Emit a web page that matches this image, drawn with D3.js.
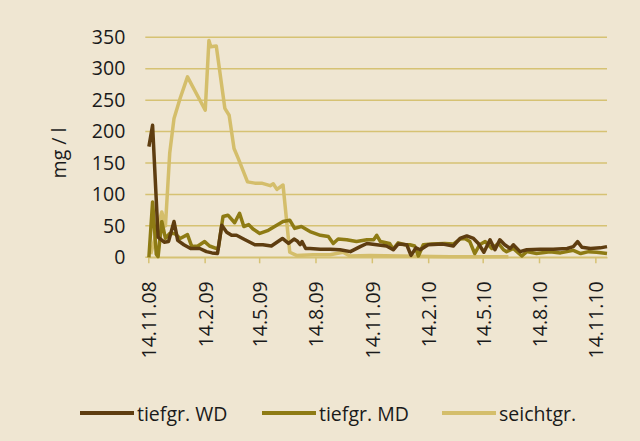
<!DOCTYPE html>
<html>
<head>
<meta charset="utf-8">
<script src="https://cdn.jsdelivr.net/npm/d3@7"></script>
<style>
  html, body { margin: 0; padding: 0; background: #efe6d2; }
  svg { display: block; font-family: "Open Sans", "Noto Sans", sans-serif; }
  .grid line { stroke: #d6c273; stroke-width: 1.5; }
  .series { fill: none; stroke-width: 3.5; stroke-linejoin: round; }
  text { fill: #1a1a1a; }
</style>
</head>
<body>
<div id="wrapper"></div>
<script>
// 1. Data

const wdDates = ["2008-11-15","2008-11-21","2008-11-30","2008-12-10","2008-12-17","2008-12-26","2009-01-01","2009-01-11","2009-01-22","2009-02-06","2009-02-17","2009-02-26","2009-03-07","2009-03-14","2009-03-22","2009-03-30","2009-04-07","2009-04-21","2009-05-07","2009-05-20","2009-06-03","2009-06-21","2009-07-01","2009-07-10","2009-07-15","2009-07-20","2009-07-23","2009-07-29","2009-08-05","2009-08-22","2009-09-07","2009-09-23","2009-10-10","2009-10-26","2009-11-06","2009-11-22","2009-12-08","2009-12-19","2009-12-27","2010-01-10","2010-01-17","2010-01-25","2010-02-01","2010-02-14","2010-03-10","2010-03-27","2010-04-07","2010-04-18","2010-04-29","2010-05-07","2010-05-16","2010-05-26","2010-06-03","2010-06-11","2010-06-19","2010-06-28","2010-07-03","2010-07-14","2010-07-25","2010-08-16","2010-09-06","2010-09-29","2010-10-09","2010-10-16","2010-10-23","2010-11-06","2010-11-22","2010-12-03"]
const wdValues = [176,210,32,24,25,57,27,20,14,14,9,7,6,51,40,35,35,28,20,20,18,30,22,29,26,20,25,14,14,13,13,12,9,17,22,20,18,12,21,20,3,15,12,20,21,18,30,34,30,22,8,28,12,28,20,14,20,9,12,13,13,14,17,25,16,14,15,17]

const mdDates = ["2008-11-15","2008-11-21","2008-11-27","2008-11-30","2008-12-06","2008-12-12","2008-12-19","2008-12-27","2009-01-05","2009-01-17","2009-01-24","2009-02-03","2009-02-14","2009-02-22","2009-03-08","2009-03-16","2009-03-24","2009-04-04","2009-04-12","2009-04-19","2009-04-27","2009-05-04","2009-05-15","2009-05-29","2009-06-22","2009-07-03","2009-07-11","2009-07-22","2009-08-05","2009-08-22","2009-09-04","2009-09-12","2009-09-20","2009-10-04","2009-10-20","2009-11-06","2009-11-17","2009-11-22","2009-11-28","2009-12-13","2009-12-19","2009-12-27","2010-01-07","2010-01-15","2010-01-23","2010-01-29","2010-02-06","2010-02-20","2010-03-13","2010-03-27","2010-04-07","2010-04-15","2010-04-23","2010-05-01","2010-05-09","2010-05-18","2010-05-29","2010-06-09","2010-06-17","2010-06-22","2010-07-03","2010-07-17","2010-07-25","2010-08-10","2010-09-01","2010-09-18","2010-10-09","2010-10-21","2010-11-03","2010-11-16","2010-12-03"]
const mdValues = [0,88,5,1,57,30,38,38,30,36,17,18,25,18,13,65,67,55,70,49,52,45,38,43,57,59,46,49,41,35,33,22,29,28,25,28,28,35,25,22,13,23,20,20,18,2,20,21,22,21,29,30,25,6,20,25,14,22,12,9,14,2,9,6,9,7,11,6,9,8,6]

const seDates = ["2008-11-18","2008-12-06","2008-12-12","2008-12-19","2008-12-26","2009-01-05","2009-01-17","2009-02-15","2009-02-21","2009-02-24","2009-03-05","2009-03-19","2009-03-26","2009-04-03","2009-04-10","2009-04-25","2009-05-07","2009-05-18","2009-06-01","2009-06-06","2009-06-12","2009-06-22","2009-07-03","2009-07-14","2009-08-10","2009-09-07","2009-09-28","2009-10-09","2009-11-11","2009-12-30","2010-03-22","2010-06-25"]
const seValues = [5,72,50,166,221,253,287,234,345,335,336,237,226,173,157,120,118,118,114,117,108,115,8,3,4,4,8,2,3,2,1,1]

const seriesNames = ["tiefgr. WD", "tiefgr. MD", "seichtgr."]
const seriesColors = ["#5e3d10", "#8e7b14", "#d4be6b"]
const yTicks = [0, 50, 100, 150, 200, 250, 300, 350]
const xTickDates = ["2008-11-14","2009-02-14","2009-05-14","2009-08-14","2009-11-14","2010-02-14","2010-05-14","2010-08-14","2010-11-14"]
const xDomain = ["2008-11-14", "2010-12-03"]

const parseDate = d3.timeParse("%Y-%m-%d")
const formatTick = d => `${d.getDate()}.${d.getMonth() + 1}.${d3.timeFormat("%y")(d)}`
const fontSize = 19.5

const series = [
  {name: seriesNames[2], color: seriesColors[2], dates: seDates, values: seValues},
  {name: seriesNames[1], color: seriesColors[1], dates: mdDates, values: mdValues},
  {name: seriesNames[0], color: seriesColors[0], dates: wdDates, values: wdValues},
].map(s => ({
  ...s,
  points: s.dates.map((d, i) => ({date: parseDate(d), value: s.values[i]})),
}))

// 2. Dimensions

const dimensions = {
  width: 640,
  height: 441,
  margin: {top: 37.3, right: 33, bottom: 183.7, left: 148.3},
}
dimensions.boundedWidth = dimensions.width - dimensions.margin.left - dimensions.margin.right
dimensions.boundedHeight = dimensions.height - dimensions.margin.top - dimensions.margin.bottom

// 3. Canvas

const wrapper = d3.select("#wrapper")
  .append("svg")
    .attr("width", dimensions.width)
    .attr("height", dimensions.height)

wrapper.append("rect")
    .attr("width", dimensions.width)
    .attr("height", dimensions.height)
    .attr("fill", "#efe6d2")

const bounds = wrapper.append("g")
    .attr("transform", `translate(${dimensions.margin.left}, ${dimensions.margin.top})`)

// 4. Scales

const xScale = d3.scaleTime()
    .domain(xDomain.map(parseDate))
    .range([0, dimensions.boundedWidth])

const yScale = d3.scaleLinear()
    .domain([0, 350])
    .range([dimensions.boundedHeight, 0])

// 5. Grid + axes

const grid = bounds.append("g").attr("class", "grid")
grid.selectAll("line")
  .data(yTicks)
  .join("line")
    .attr("x1", -3)
    .attr("x2", dimensions.boundedWidth)
    .attr("y1", d => yScale(d))
    .attr("y2", d => yScale(d))

const yAxis = bounds.append("g")
    .call(d3.axisLeft(yScale).tickValues(yTicks).tickSize(0).tickPadding(23))
yAxis.select(".domain").remove()
yAxis.selectAll("text")
    .attr("font-size", fontSize)
    .attr("font-family", "'Open Sans', sans-serif")
    .attr("fill", "#1a1a1a")

const xAxis = bounds.append("g")
    .attr("transform", `translate(0, ${dimensions.boundedHeight})`)
    .call(d3.axisBottom(xScale).tickValues(xTickDates.map(parseDate)).tickSize(6).tickSizeOuter(0).tickFormat(formatTick))
xAxis.select(".domain").attr("stroke", "#d6c273").attr("stroke-width", 1.5)
xAxis.selectAll(".tick line").attr("stroke", "#d6c273").attr("stroke-width", 1.5)
xAxis.selectAll("text")
    .attr("font-size", fontSize)
    .attr("font-family", "'Open Sans', sans-serif")
    .attr("fill", "#1a1a1a")
    .attr("text-anchor", "end")
    .attr("dominant-baseline", "central")
    .attr("dy", null)
    .attr("y", 0)
    .attr("transform", "translate(0, 24) rotate(-90)")

// 6. Lines

const lineGenerator = d3.line()
    .x(d => xScale(d.date))
    .y(d => yScale(d.value))

bounds.selectAll(".series")
  .data(series)
  .join("path")
    .attr("class", "series")
    .attr("stroke", d => d.color)
    .attr("d", d => lineGenerator(d.points))

// 7. Labels + legend

wrapper.append("text")
    .attr("transform", "translate(58, 153) rotate(-90)")
    .attr("text-anchor", "middle")
    .attr("dominant-baseline", "central")
    .attr("font-size", fontSize)
    .text("mg / l")

const legendItems = [
  {name: seriesNames[0], color: seriesColors[0], x: 80},
  {name: seriesNames[1], color: seriesColors[1], x: 262},
  {name: seriesNames[2], color: seriesColors[2], x: 442},
]
const legend = wrapper.append("g")
    .attr("transform", "translate(0, 413)")
const legendItem = legend.selectAll("g")
  .data(legendItems)
  .join("g")
    .attr("transform", d => `translate(${d.x}, 0)`)
legendItem.append("line")
    .attr("x1", 0)
    .attr("x2", 54)
    .attr("stroke", d => d.color)
    .attr("stroke-width", 4)
legendItem.append("text")
    .attr("x", 57)
    .attr("dominant-baseline", "central")
    .attr("font-size", fontSize)
    .text(d => d.name)
</script>
</body>
</html>
